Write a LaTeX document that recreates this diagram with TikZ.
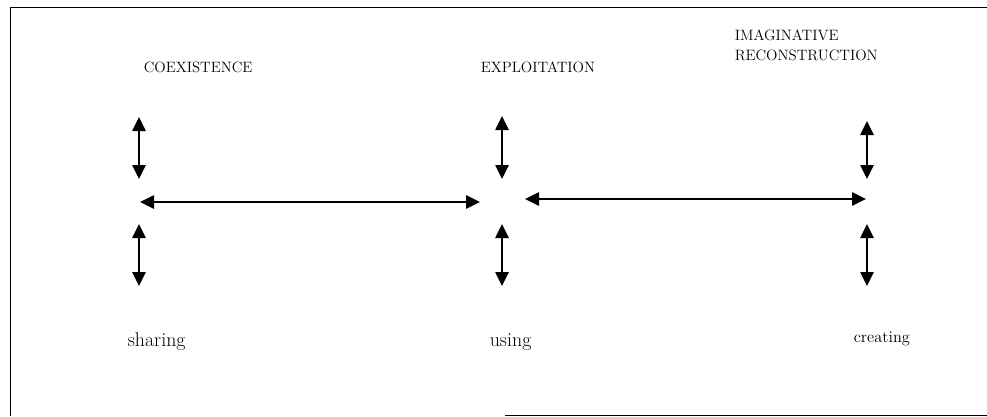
\documentclass[tikz,border=0pt]{standalone}
\usetikzlibrary{arrows.meta}

\begin{document}
\begin{tikzpicture}[%
        x = 0.03cm,
        y = -0.03cm,
        line width = 1.3pt,
        dbl/.style = {{Triangle[length=4.2mm,width=4mm]}-{Triangle[length=4.2mm,width=4mm]}},
        heading/.style = {anchor = base west, inner sep = 0pt, align = left,
                          font = \fontsize{12.8}{17}\selectfont},
        verb/.style = {anchor = base west, inner sep = 0pt,
                       font = \fontsize{17}{20}\selectfont},
        ]

\useasboundingbox[] (0,0) rectangle (987,416);

% open frame round the diagram
\draw[line width = 0.8pt] (987,7) -- (10,7) -- (10,416);
\draw[line width = 0.8pt] (505,415) -- (987,415);


\node (coex) [heading] at (143,72) {COEXISTENCE};
\node (expl) [heading] at (480,72) {EXPLOITATION};
% base of a two-line node sits on its last line
\node (imag) [heading] at (734,60) {IMAGINATIVE\\RECONSTRUCTION};

\node (shar) [verb] at (127,346) {sharing};
\node (usin) [verb] at (489,346) {using};
\node (crea) [verb, font = \fontsize{14}{16}\selectfont] at (853,342) {creating};


% up/down arrows above and below each hub
\foreach \COL/\X/\TOP in {coex/139/117, expl/502/116, imag/867/121}{
    \coordinate (\COL-a) at (\X,\TOP);
    \coordinate (\COL-b) at (\X,179);
    \coordinate (\COL-c) at (\X,224);
    \coordinate (\COL-d) at (\X,286);
    \draw[dbl] (\COL-a) -- (\COL-b);
    \draw[dbl] (\COL-c) -- (\COL-d);
    }

% links between the hubs
\coordinate (h1l) at (140,202);
\coordinate (h1r) at (480,202);
\coordinate (h2l) at (525,199);
\coordinate (h2r) at (866,199);

\draw[dbl] (h1l) -- (h1r);
\draw[dbl] (h2l) -- (h2r);


\end{tikzpicture}
\end{document}
